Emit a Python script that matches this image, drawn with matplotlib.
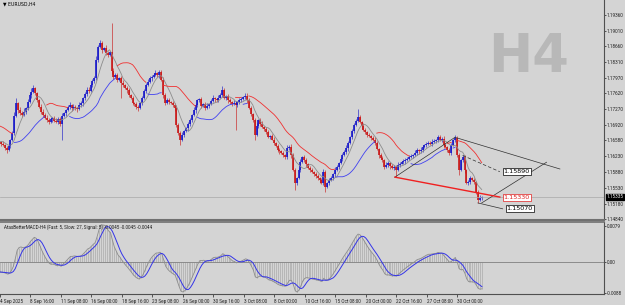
import numpy as np
import pandas as pd
import matplotlib
matplotlib.use("Agg")
import matplotlib.pyplot as plt

# H4 closes, 4 Sep 2025 00:00 onwards (open = previous close)
closes = [
    1.1654, 1.1650, 1.1648, 1.1641, 1.1637, 1.1645, 1.1659, 1.1675, 1.1712, 1.1741,
    1.1725, 1.1719, 1.1714, 1.1722, 1.1730, 1.1744, 1.1759, 1.1765, 1.1774, 1.1762,
    1.1747, 1.1733, 1.1721, 1.1715, 1.1708, 1.1703, 1.1699, 1.1705, 1.1708, 1.1702,
    1.1699, 1.1706, 1.1695, 1.1712, 1.1718, 1.1725, 1.1731, 1.1736, 1.1729, 1.1733,
    1.1730, 1.1727, 1.1736, 1.1741, 1.1752, 1.1760, 1.1770, 1.1768, 1.1781, 1.1789,
    1.1796, 1.1836, 1.1865, 1.1873, 1.1858, 1.1862, 1.1851, 1.1847, 1.1853, 1.1812,
    1.1799, 1.1803, 1.1792, 1.1797, 1.1785, 1.1780, 1.1774, 1.1769, 1.1759, 1.1752,
    1.1741, 1.1738, 1.1732, 1.1730, 1.1741, 1.1752, 1.1768, 1.1781, 1.1788, 1.1796,
    1.1799, 1.1803, 1.1807, 1.1802, 1.1809, 1.1792, 1.1759, 1.1741, 1.1747, 1.1744,
    1.1741, 1.1736, 1.1730, 1.1692, 1.1675, 1.1659, 1.1670, 1.1678, 1.1685, 1.1694,
    1.1703, 1.1714, 1.1725, 1.1736, 1.1747, 1.1749, 1.1734, 1.1738, 1.1730, 1.1735,
    1.1738, 1.1746, 1.1752, 1.1749, 1.1747, 1.1753, 1.1759, 1.1770, 1.1752, 1.1756,
    1.1747, 1.1742, 1.1738, 1.1741, 1.1736, 1.1743, 1.1747, 1.1750, 1.1754, 1.1757,
    1.1747, 1.1730, 1.1716, 1.1703, 1.1670, 1.1690, 1.1703, 1.1695, 1.1688, 1.1684,
    1.1677, 1.1666, 1.1668, 1.1660, 1.1653, 1.1646, 1.1637, 1.1634, 1.1630, 1.1626,
    1.1621, 1.1641, 1.1644, 1.1626, 1.1593, 1.1564, 1.1575, 1.1593, 1.1610, 1.1621,
    1.1615, 1.1606, 1.1597, 1.1592, 1.1588, 1.1584, 1.1579, 1.1575, 1.1571, 1.1564,
    1.1588, 1.1555, 1.1564, 1.1570, 1.1575, 1.1584, 1.1593, 1.1600, 1.1608, 1.1617,
    1.1626, 1.1633, 1.1641, 1.1653, 1.1666, 1.1679, 1.1692, 1.1702, 1.1710, 1.1699,
    1.1690, 1.1681, 1.1677, 1.1670, 1.1667, 1.1664, 1.1660, 1.1653, 1.1640, 1.1626,
    1.1620, 1.1615, 1.1599, 1.1604, 1.1608, 1.1602, 1.1597, 1.1600, 1.1593, 1.1604,
    1.1607, 1.1610, 1.1613, 1.1615, 1.1618, 1.1621, 1.1624, 1.1626, 1.1631, 1.1637,
    1.1634, 1.1637, 1.1643, 1.1648, 1.1650, 1.1653, 1.1651, 1.1655, 1.1657, 1.1659,
    1.1666, 1.1659, 1.1662, 1.1648, 1.1643, 1.1637, 1.1630, 1.1648, 1.1659, 1.1664,
    1.1626, 1.1593, 1.1615, 1.1621, 1.1593, 1.1564, 1.1566, 1.1575, 1.1571, 1.1566,
    1.1544, 1.1527, 1.1531, 1.15335,
]
# wick sizes in pips above / below the body
up_wick = [
    4, 3, 6, 2, 5, 7, 3, 5, 9, 11, 3, 6, 4, 7, 2, 5, 4, 8, 6, 3,
    4, 2, 5, 6, 3, 7, 4, 5, 2, 4, 6, 3, 4, 7, 4, 2, 5, 6, 3, 5,
    4, 3, 6, 4, 2, 5, 7, 6, 3, 4, 5, 8, 4, 7, 5, 3, 6, 5, 2, 65,
    7, 4, 5, 2, 4, 6, 3, 4, 5, 2, 4, 3, 6, 4, 2, 5, 4, 3, 6, 4,
    3, 5, 6, 3, 5, 4, 7, 3, 4, 6, 2, 4, 5, 7, 4, 3, 6, 4, 2, 4,
    5, 3, 6, 5, 3, 4, 6, 2, 4, 5, 3, 4, 6, 2, 4, 5, 3, 8, 4, 2,
    5, 4, 3, 6, 4, 2, 5, 4, 3, 5, 6, 4, 5, 2, 4, 6, 3, 4, 5, 2,
    4, 5, 3, 4, 6, 2, 4, 5, 3, 4, 3, 6, 4, 7, 4, 5, 2, 4, 6, 3,
    4, 5, 2, 4, 6, 3, 4, 5, 2, 4, 6, 4, 3, 5, 4, 2, 6, 4, 3, 5,
    4, 3, 6, 4, 2, 5, 4, 3, 18, 4, 3, 6, 4, 2, 5, 4, 3, 6, 4, 2,
    5, 4, 3, 6, 4, 2, 5, 4, 3, 6, 4, 2, 5, 4, 3, 6, 4, 2, 5, 4,
    3, 6, 4, 2, 5, 4, 3, 6, 4, 2, 5, 4, 3, 6, 4, 3, 5, 4, 2, 6,
    4, 5, 2, 4, 6, 3, 4, 5, 3, 4, 3, 4, 6, 2,
]
dn_wick = [
    3, 5, 2, 4, 6, 3, 4, 2, 5, 3, 6, 4, 3, 2, 5, 4, 3, 6, 2, 4,
    5, 3, 4, 6, 2, 4, 5, 3, 6, 4, 3, 5, 4, 36, 3, 5, 2, 4, 6, 3,
    4, 5, 2, 3, 6, 4, 3, 5, 2, 4, 3, 5, 4, 2, 6, 3, 4, 5, 2, 6,
    4, 3, 5, 2, 33, 4, 3, 6, 4, 2, 5, 3, 4, 7, 3, 4, 2, 5, 3, 4,
    6, 3, 2, 4, 5, 3, 6, 4, 2, 5, 3, 4, 6, 5, 4, 11, 3, 4, 2, 5,
    3, 4, 2, 6, 3, 4, 5, 2, 4, 3, 5, 2, 4, 6, 3, 4, 2, 5, 3, 4,
    6, 3, 4, 2, 55, 3, 4, 5, 2, 4, 6, 3, 4, 5, 11, 3, 4, 6, 2, 4,
    5, 3, 4, 2, 6, 3, 4, 5, 2, 4, 5, 3, 4, 6, 3, 15, 4, 3, 5, 2,
    4, 6, 3, 4, 2, 5, 3, 4, 6, 3, 4, 11, 3, 5, 2, 4, 6, 3, 4, 2,
    5, 3, 4, 6, 2, 4, 5, 3, 4, 2, 6, 3, 4, 5, 2, 4, 3, 5, 4, 6,
    3, 4, 5, 2, 4, 6, 3, 4, 16, 3, 5, 2, 4, 6, 3, 4, 2, 5, 3, 4,
    6, 3, 4, 2, 5, 3, 4, 6, 2, 4, 5, 3, 4, 6, 2, 5, 3, 4, 2, 4,
    5, 11, 3, 4, 6, 3, 4, 5, 2, 4, 4, 7, 3, 4,
]
# bars before the visible window (feed the indicators only)
lead_close = [1.1690, 1.1684, 1.1688, 1.1695, 1.1702, 1.1708, 1.1712, 1.1705, 1.1710, 1.1714,
              1.1706, 1.1690, 1.1668, 1.1645, 1.1640, 1.1652, 1.1660, 1.1655, 1.1662, 1.1658]
lead_high = [1.1698, 1.1694, 1.1695, 1.1701, 1.1709, 1.1716, 1.1719, 1.1716, 1.1715, 1.1721,
             1.1718, 1.1709, 1.1692, 1.1670, 1.1652, 1.1660, 1.1668, 1.1666, 1.1668, 1.1665]
lead_low = [1.1680, 1.1678, 1.1680, 1.1686, 1.1693, 1.1699, 1.1704, 1.1700, 1.1702, 1.1706,
            1.1700, 1.1686, 1.1662, 1.1640, 1.1632, 1.1638, 1.1650, 1.1648, 1.1652, 1.1650]

time_labels = ["4 Sep 2025", "8 Sep 16:00", "11 Sep 08:00", "16 Sep 00:00", "18 Sep 16:00",
               "23 Sep 08:00", "26 Sep 00:00", "30 Sep 16:00", "3 Oct 08:00", "8 Oct 00:00",
               "10 Oct 16:00", "15 Oct 08:00", "20 Oct 00:00", "22 Oct 16:00", "27 Oct 08:00",
               "30 Oct 00:00"]
price_ticks = [1.19360, 1.19010, 1.18660, 1.18310, 1.17970, 1.17620, 1.17270, 1.16920,
               1.16580, 1.16230, 1.15880, 1.15530, 1.15180, 1.14840]
macd_labels = ["0.0079", "0.00", "-0.0088"]

# drawn objects: (bar, price) end points
line_up = ([207.5, 239.0], [1.1577, 1.1665])
line_top = ([239.0, 294.0], [1.1665, 1.1595])
line_mid = ([243.0, 262.5], [1.1625, 1.1589])
line_rise = ([253.0, 287.0], [1.1520, 1.1610])
line_low = ([251.0, 264.0], [1.1520, 1.1507])
line_red = ([207.5, 262.5], [1.1577, 1.1533])
level_labels = [(1.15890, "black"), (1.15330, "#E02020"), (1.15070, "black")]

BG = "#D4D4D4"
BULL = "#1010C8"
BEAR = "#C81010"
SMALL = ["Roboto", "DejaVu Sans"]
FS = 3.3

c = np.array(closes)
n = len(c)
idx = np.arange(n)
o = np.r_[lead_close[-1], c[:-1]]
h = np.maximum(o, c) + np.array(up_wick) / 1e4
l = np.minimum(o, c) - np.array(dn_wick) / 1e4
nl = len(lead_close)

cc = pd.Series(np.r_[lead_close, c])
hh = pd.Series(np.r_[lead_high, h])
ll = pd.Series(np.r_[lead_low, l])
sma_h = hh.rolling(20, min_periods=1).mean().values
sma_l = ll.rolling(20, min_periods=1).mean().values
trend = np.zeros(len(cc))
t = -1
for k in range(len(cc)):
    if k > 0 and cc[k] > sma_h[k - 1]:
        t = 1
    elif k > 0 and cc[k] < sma_l[k - 1]:
        t = -1
    trend[k] = t
blue_line = np.where(trend == 1, sma_l, np.nan)[nl:]
red_line = np.where(trend == -1, sma_h, np.nan)[nl:]
fast = cc.rolling(7, min_periods=1).mean().values[nl:]

ema5 = cc.ewm(span=5, adjust=False).mean()
ema27 = cc.ewm(span=27, adjust=False).mean()
macd = (ema5 - ema27).values[nl:]
signal = pd.Series(macd).rolling(5, min_periods=1).mean().values

fig = plt.figure(figsize=(6.25, 3.05), dpi=100, facecolor=BG)
ax = fig.add_axes([0, 1 - 219.5 / 305, 604 / 625, 219.5 / 305], facecolor=BG)
ax2 = fig.add_axes([0, 1 - 294 / 305, 604 / 625, 72 / 305], facecolor=BG)

xl = (0.524, 317.1)
y_top = 1.19360 + 14.7 * 0.000221
y_bot = 1.19360 - 204.8 * 0.000221

# watermark
ax.text(277.3, 1.1809, "H4", fontsize=38, fontweight="bold", color="#B8B8B8",
        va="baseline", ha="center", zorder=0)

# candles
col = np.where(c >= o, BULL, BEAR)
ax.vlines(idx, l, h, colors=col, lw=0.55, alpha=0.75)
ax.vlines(idx, np.minimum(o, c), np.maximum(o, c), colors=col, lw=1.15)

ax.plot(idx, fast, color="#8C8C8C", lw=0.6)
ax.plot(idx, blue_line, color="#4040F0", lw=0.6)
ax.plot(idx, red_line, color="#F03030", lw=0.6)

ax.axhline(c[-1], color="#A8A8A8", lw=0.5)

for xs, ys in [line_up, line_top, line_rise, line_low]:
    ax.plot(xs, ys, color="#303030", lw=0.5)
ax.plot(*line_mid, color="#303030", lw=0.5, ls=(0, (5, 3)))
ax.plot(*line_red, color="#F02020", lw=1.0)

label_x = [264.5, 264.5, 266.0]
for lx, (val, colr) in zip(label_x, level_labels):
    ax.text(lx, val, "%.5f" % val, fontsize=4.6, color=colr, va="center", ha="left",
            bbox=dict(boxstyle="square,pad=0.15", fc="white", ec=colr, lw=0.5))

ax.text(2, y_top - 0.0008, "\u25bc EURUSD,H4", fontsize=FS, family=["DejaVu Sans"],
        color="black", va="center")

ax.set_xlim(*xl)
ax.set_ylim(y_bot, y_top)
ax.yaxis.tick_right()
ax.set_yticks(price_ticks)
ax.set_yticklabels(["%.5f" % p for p in price_ticks], fontsize=FS, family=SMALL)
ax.tick_params(axis="y", length=1.6, width=0.5, pad=0.6, colors="#202020")
ax.set_xticks([])
for s in ["top", "left"]:
    ax.spines[s].set_visible(False)
ax.spines["right"].set_color("#505050")
ax.spines["right"].set_linewidth(0.8)
ax.spines["bottom"].set_color("#707070")
ax.spines["bottom"].set_linewidth(1.5)

ax.text(1.0035, c[-1], "%.5f" % c[-1], transform=ax.get_yaxis_transform(), fontsize=FS,
        family=SMALL, color="white", va="center", ha="left",
        bbox=dict(boxstyle="square,pad=0.12", fc="black", ec="black"))

# MACD pane
ax2.vlines(idx, 0, macd, colors="#A0A0A0", lw=0.4)
ax2.axhline(0, color="#808080", lw=0.6)
ax2.plot(idx, macd, color="#8C8C8C", lw=0.6)
ax2.plot(idx, signal, color="#3434E8", lw=0.7)
ax2.set_xlim(*xl)
ax2.set_ylim(-0.0062, 0.0078)
ax2.yaxis.tick_right()
ax2.set_yticks([0.0070, 0.0, -0.0060])
ax2.set_yticklabels(macd_labels, fontsize=FS, family=SMALL)
ax2.tick_params(axis="y", length=1.6, width=0.5, pad=0.6, colors="#202020")
ax2.set_xticks(np.arange(len(time_labels)) * 16)
ax2.set_xticklabels(time_labels, fontsize=FS, ha="left", family=SMALL)
ax2.tick_params(axis="x", length=2.5, width=0.5, pad=1, colors="#202020")
ax2.spines["left"].set_visible(False)
ax2.spines["top"].set_color("#707070")
ax2.spines["top"].set_linewidth(1.2)
for s in ["right", "bottom"]:
    ax2.spines[s].set_color("#505050")
    ax2.spines[s].set_linewidth(0.8)
ax2.text(2, 0.0069, "AtasBetterMACD-H4 (Fast: 5, Slow: 27, Signal: 5) -0.0045 -0.0045 -0.0044",
         fontsize=FS, family=SMALL, color="#202020", va="center")

fig.savefig("out.png", dpi=100, facecolor=BG)
